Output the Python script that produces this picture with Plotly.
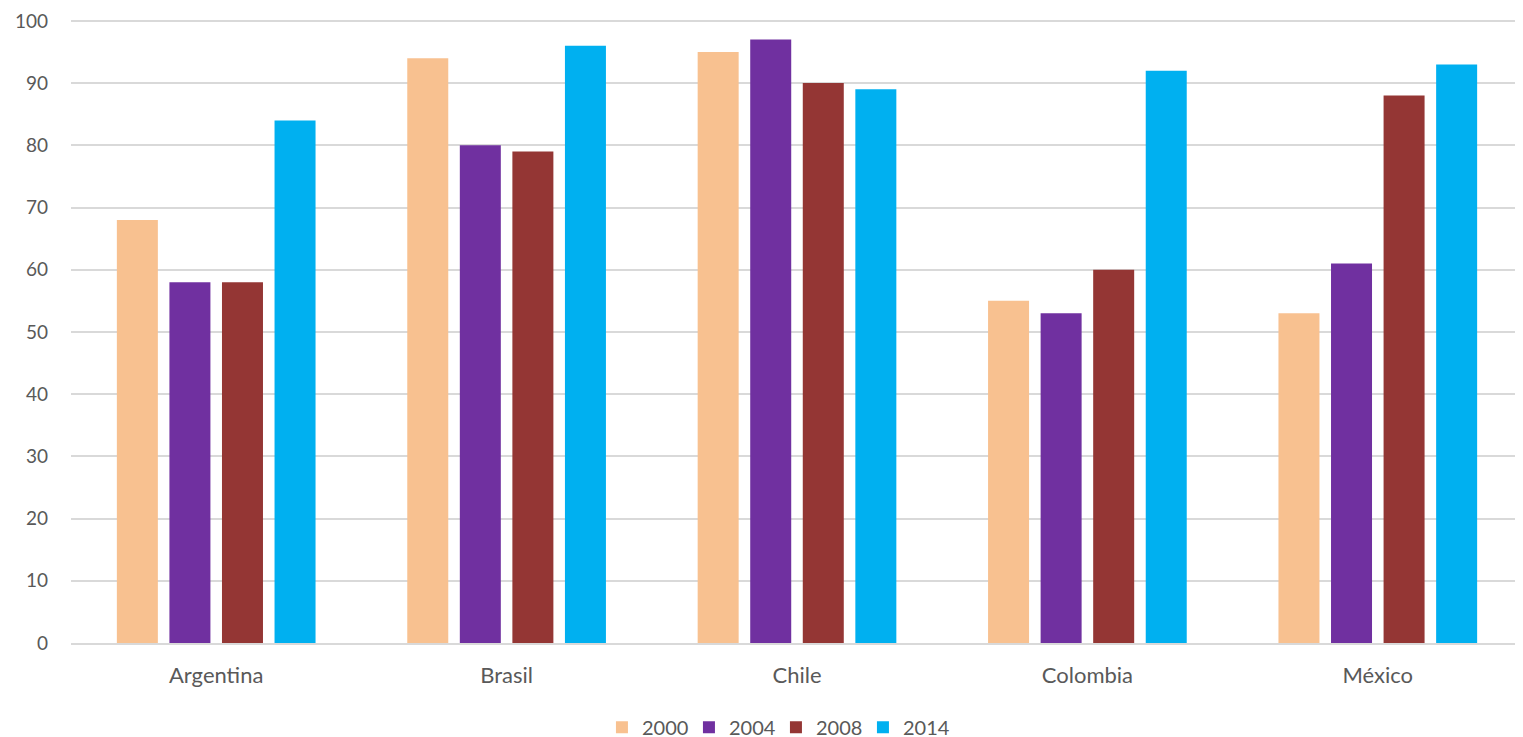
import plotly.graph_objects as go

countries = ["Argentina", "Brasil", "Chile", "Colombia", "México"]
years = ["2000", "2004", "2008", "2014"]
values = {
    "2000": [68, 94, 95, 55, 53],
    "2004": [58, 80, 97, 53, 61],
    "2008": [58, 79, 90, 60, 88],
    "2014": [84, 96, 89, 92, 93],
}
colors = {"2000": "#F8C190", "2004": "#7030A0", "2008": "#943634", "2014": "#00B0F0"}
y_ticks = [0, 10, 20, 30, 40, 50, 60, 70, 80, 90, 100]

fig = go.Figure()
for y in years:
    fig.add_trace(go.Bar(x=countries, y=values[y], name=y, marker_color=colors[y],
                         marker_line_width=0))

font = "Lato, 'Open Sans', sans-serif"
fig.update_layout(
    width=1523, height=737,
    margin=dict(l=63, r=8, t=11, b=102),
    paper_bgcolor="white", plot_bgcolor="white",
    barmode="group", bargap=0.276, bargroupgap=0.22,
    font=dict(family=font, size=21, color="#595959"),
    showlegend=True,
    legend=dict(orientation="h", x=0.4855, xanchor="center", xref="paper",
                yref="container", y=0.024, yanchor="middle",
                entrywidth=42, entrywidthmode="pixels",
                font=dict(size=20, color="#595959"), itemwidth=30, traceorder="normal"),
    xaxis=dict(showgrid=False, showline=True, linecolor="#D9D9D9", linewidth=2,
               tickfont=dict(size=22, color="#595959"), ticks="", automargin=False,
               ticklabelstandoff=12),
    yaxis=dict(range=[0, 100.3], tickvals=y_ticks, showgrid=True, gridcolor="#D9D9D9",
               gridwidth=1.5, zeroline=False, showline=False, ticks="", automargin=False,
               ticklabeloverflow="allow",
               ticklabelstandoff=22, tickfont=dict(size=19, color="#595959")),
)
fig.write_html("out.html")
